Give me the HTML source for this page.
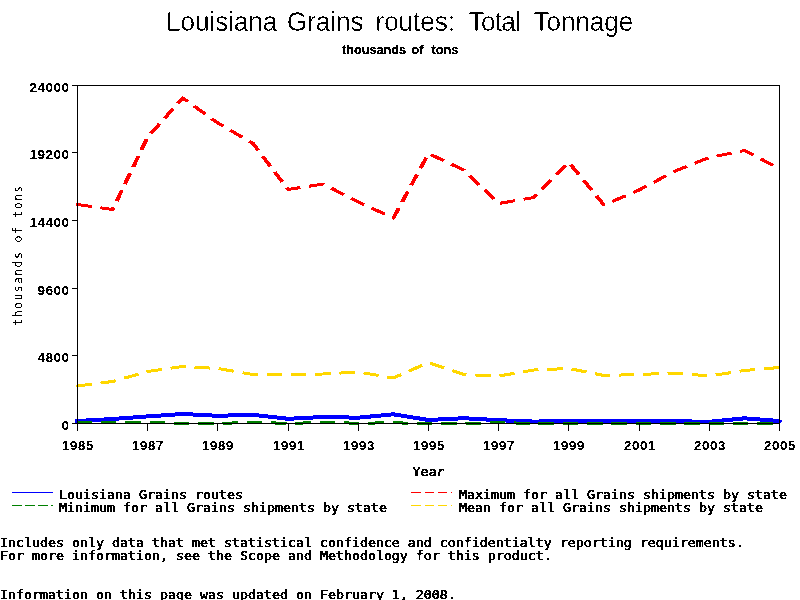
<!DOCTYPE html>
<html lang="en">
<head>
<meta charset="utf-8">
<title>Louisiana Grains routes: Total Tonnage</title>
<style>
html,body{margin:0;padding:0;background:#fff;}
body{width:800px;height:600px;overflow:hidden;position:relative;}
svg{position:absolute;left:0;top:0;display:block;}
.m{font-family:'DejaVu Sans Mono','Liberation Mono',monospace;font-size:12px;fill:#000;stroke:#000;stroke-width:0.5px;white-space:pre;}
.t{font-family:'Liberation Sans',sans-serif;font-size:26px;fill:#000;white-space:pre;stroke:#fff;stroke-width:0.3px;}
.s{font-family:'Liberation Sans',sans-serif;font-weight:bold;font-size:12.7px;fill:#000;stroke:#000;stroke-width:0.25px;white-space:pre;}
.yl{font-family:'DejaVu Sans Mono','Liberation Mono',monospace;font-size:11.5px;fill:#000;white-space:pre;}
.n{font-family:'Liberation Sans',sans-serif;font-weight:bold;font-size:13px;letter-spacing:0.77px;fill:#000;stroke:#000;stroke-width:0.15px;}
text{filter:url(#crisp);}
.ax{stroke:#000;stroke-width:1;fill:none;shape-rendering:crispEdges;}
.ln{fill:none;stroke-linecap:butt;shape-rendering:crispEdges;}
</style>
</head>
<body>
<svg width="800" height="600" viewBox="0 0 800 600">
<defs>
<filter id="crisp" x="-5%" y="-20%" width="110%" height="140%" color-interpolation-filters="sRGB">
<feComponentTransfer><feFuncR type="discrete" tableValues="0 1"/><feFuncG type="discrete" tableValues="0 1"/><feFuncB type="discrete" tableValues="0 1"/><feFuncA type="discrete" tableValues="0 1"/></feComponentTransfer>
</filter>
</defs>

<text class="t" transform="translate(0,31) scale(1,1.06)" y="0"><tspan x="166">Louisiana </tspan><tspan x="287">Grains </tspan><tspan x="375.5">routes: </tspan><tspan x="468.5" letter-spacing="-0.6">Total </tspan><tspan x="533.5">Tonnage</tspan></text>
<text class="s" y="54"><tspan x="342">thousands </tspan><tspan x="411.5">of </tspan><tspan x="431.5">tons</tspan></text>
<circle cx="77.5" cy="421.00" r="2.5" fill="#0000ff" shape-rendering="crispEdges"/>
<circle cx="77.5" cy="204.50" r="1.5" fill="#ff0000" shape-rendering="crispEdges"/>
<circle cx="77.5" cy="386.00" r="1.5" fill="#ffd700" shape-rendering="crispEdges"/>
<path d="M779.5 419.50h1.5l1.5 1.5l-1.5 1.5h-1.5z" fill="#0000ff" shape-rendering="crispEdges"/>
<g transform="scale(1.333333,1)">
<polyline class="ln" stroke="#0000ff" stroke-width="4" stroke-linejoin="round" points="58.125,421.00 84.450,419.00 110.775,416.40 137.100,414.00 163.425,415.80 189.750,414.80 216.075,418.80 242.400,417.00 268.725,417.70 295.050,414.30 321.375,420.00 347.700,418.20 374.025,420.20 400.350,421.60 426.675,421.00 453.000,421.50 479.325,421.40 505.650,421.20 531.975,421.80 558.300,418.30 584.625,421.00"/>
<polyline class="ln" stroke="#ff0000" stroke-width="3" stroke-linejoin="round" stroke-dasharray="11.60 6.55" stroke-dashoffset="0.7" points="58.125,204.50 84.450,209.50 110.775,137.00 137.100,98.00 163.425,123.00 189.750,143.50 216.075,189.50 242.400,184.00 268.725,202.00 295.050,218.00 321.375,153.50 347.700,170.00 374.025,203.50 400.350,197.50 426.675,162.50 453.000,205.00 479.325,190.00 505.650,171.50 531.975,157.50 558.300,150.50 584.625,168.50"/>
<polyline class="ln" stroke="#ffd700" stroke-width="3" stroke-linejoin="round" stroke-dasharray="11.60 6.64" stroke-dashoffset="0.7" points="58.125,386.00 84.450,381.50 110.775,371.50 137.100,366.50 163.425,368.50 189.750,374.50 216.075,374.50 242.400,374.00 268.725,372.00 295.050,378.00 321.375,362.50 347.700,374.50 374.025,376.00 400.350,370.00 426.675,368.50 453.000,375.50 479.325,374.50 505.650,373.00 531.975,376.00 558.300,370.50 584.625,367.50"/>
<polyline class="ln" stroke="#008000" stroke-width="3" stroke-linejoin="round" stroke-dasharray="11.60 6.64" stroke-dashoffset="0.7" points="58.125,422.50 84.450,422.50 110.775,422.50 137.100,423.20 163.425,423.50 189.750,422.30 216.075,423.40 242.400,422.50 268.725,423.20 295.050,422.80 321.375,423.60 347.700,423.50 374.025,422.50 400.350,423.50 426.675,423.50 453.000,423.50 479.325,423.50 505.650,423.50 531.975,423.50 558.300,423.50 584.625,423.50"/>
</g>
<rect class="ax" x="77.5" y="85.5" width="702" height="338"/>
<line class="ax" x1="72" y1="423.5" x2="78" y2="423.5"/>
<text class="n" x="69.8" y="430" text-anchor="end">0</text>
<line class="ax" x1="72" y1="355.5" x2="78" y2="355.5"/>
<text class="n" x="69.8" y="362" text-anchor="end">4800</text>
<line class="ax" x1="72" y1="288.5" x2="78" y2="288.5"/>
<text class="n" x="69.8" y="295" text-anchor="end">9600</text>
<line class="ax" x1="72" y1="220.5" x2="78" y2="220.5"/>
<text class="n" x="69.8" y="227" text-anchor="end">14400</text>
<line class="ax" x1="72" y1="152.5" x2="78" y2="152.5"/>
<text class="n" x="69.8" y="159" text-anchor="end">19200</text>
<line class="ax" x1="72" y1="85.5" x2="78" y2="85.5"/>
<text class="n" x="69.8" y="92" text-anchor="end">24000</text>
<line class="ax" x1="77.5" y1="423" x2="77.5" y2="431"/>
<text class="n" x="77.9" y="450" text-anchor="middle">1985</text>
<line class="ax" x1="147.5" y1="423" x2="147.5" y2="431"/>
<text class="n" x="147.9" y="450" text-anchor="middle">1987</text>
<line class="ax" x1="217.5" y1="423" x2="217.5" y2="431"/>
<text class="n" x="217.9" y="450" text-anchor="middle">1989</text>
<line class="ax" x1="288.5" y1="423" x2="288.5" y2="431"/>
<text class="n" x="288.9" y="450" text-anchor="middle">1991</text>
<line class="ax" x1="358.5" y1="423" x2="358.5" y2="431"/>
<text class="n" x="358.9" y="450" text-anchor="middle">1993</text>
<line class="ax" x1="428.5" y1="423" x2="428.5" y2="431"/>
<text class="n" x="428.9" y="450" text-anchor="middle">1995</text>
<line class="ax" x1="498.5" y1="423" x2="498.5" y2="431"/>
<text class="n" x="498.9" y="450" text-anchor="middle">1997</text>
<line class="ax" x1="568.5" y1="423" x2="568.5" y2="431"/>
<text class="n" x="568.9" y="450" text-anchor="middle">1999</text>
<line class="ax" x1="639.5" y1="423" x2="639.5" y2="431"/>
<text class="n" x="639.9" y="450" text-anchor="middle">2001</text>
<line class="ax" x1="709.5" y1="423" x2="709.5" y2="431"/>
<text class="n" x="709.9" y="450" text-anchor="middle">2003</text>
<line class="ax" x1="779.5" y1="423" x2="779.5" y2="431"/>
<text class="n" x="779.9" y="450" text-anchor="middle">2005</text>
<text class="m" transform="translate(412.5,476) scale(1.10733,1)">Year</text>
<text class="yl" transform="translate(22,325.5) rotate(-90) scale(1,1.13)" style="letter-spacing:1.377px">thousands of tons</text>
<path class="ax" style="stroke:#0000ff" d="M12 492.5H53"/>
<path class="ax" style="stroke:#008000" d="M12 505.5H22 M25 505.5H35 M38 505.5H48 M51 505.5H53"/>
<path class="ax" style="stroke:#ff0000" d="M411 492.5H421 M425 492.5H434 M438 492.5H447 M451 492.5H452"/>
<path class="ax" style="stroke:#ffd700" d="M411 505.5H421 M425 505.5H434 M438 505.5H447 M451 505.5H452"/>
<text class="m" transform="translate(59,499) scale(1.10733,1)">Louisiana Grains routes</text>
<text class="m" transform="translate(59,512) scale(1.10733,1)">Minimum for all Grains shipments by state</text>
<text class="m" transform="translate(459,499) scale(1.10733,1)">Maximum for all Grains shipments by state</text>
<text class="m" transform="translate(459,512) scale(1.10733,1)">Mean for all Grains shipments by state</text>
<text class="m" transform="translate(0,547) scale(1.10733,1)">Includes only data that met statistical confidence and confidentialty reporting requirements.</text>
<text class="m" transform="translate(0,560) scale(1.10733,1)">For more information, see the Scope and Methodology for this product.</text>
<text class="m" transform="translate(0,599) scale(1.10733,1)">Information on this page was updated on February 1, 2008.</text>
</svg>
</body>
</html>
